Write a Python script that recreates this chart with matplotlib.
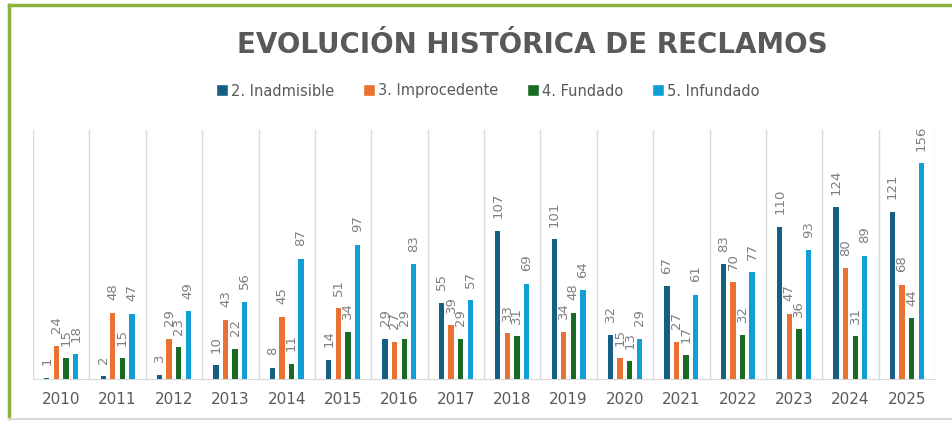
import matplotlib
matplotlib.use("Agg")
import matplotlib.pyplot as plt
import numpy as np
from matplotlib.lines import Line2D

years = [str(y) for y in range(2010, 2026)]
inadmisible = [1, 2, 3, 10, 8, 14, 29, 55, 107, 101, 32, 67, 83, 110, 124, 121]
improcedente = [24, 48, 29, 43, 45, 51, 27, 39, 33, 34, 15, 27, 70, 47, 80, 68]
fundado = [15, 15, 23, 22, 11, 34, 29, 29, 31, 48, 13, 17, 32, 36, 31, 44]
infundado = [18, 47, 49, 56, 87, 97, 83, 57, 69, 64, 29, 61, 77, 93, 89, 156]

series = [
    ("2. Inadmisible", inadmisible, "#156082"),
    ("3. Improcedente", improcedente, "#E97132"),
    ("4. Fundado", fundado, "#196B24"),
    ("5. Infundado", infundado, "#0F9ED5"),
]

W, H = 952, 422
fig = plt.figure(figsize=(W / 100, H / 100), dpi=100)
ax = fig.add_axes([33 / W, (H - 379) / H, (935 - 33) / W, (379 - 130) / H])

x = np.arange(len(years))
pitch = 0.17
width = 0.095
grey = "#7F7F7F"
for i, (name, vals, col) in enumerate(series):
    off = (i - 1.5) * pitch
    ax.bar(x + off, vals, width=width, color=col, label=name, zorder=3)
    for xi, v in zip(x, vals):
        ax.annotate(str(v), (xi + off, v), xytext=(0, 9), textcoords="offset points",
                    rotation=90, ha="center", va="bottom", fontsize=9.5, color=grey, zorder=4)

ax.set_xlim(-0.5, len(years) - 0.5)
ax.set_ylim(0, 180)
for b in np.arange(-0.5, len(years), 1.0):
    ax.axvline(b, color="#D9D9D9", lw=1, zorder=1)
for s in ["top", "left", "right"]:
    ax.spines[s].set_visible(False)
ax.spines["bottom"].set_color("#D9D9D9")
ax.set_yticks([])
ax.set_xticks(x)
ax.set_xticklabels(years, fontsize=11, color="#595959")
ax.tick_params(axis="x", length=0, pad=9)

fig.text(532 / W, 1 - 45 / H, "EVOLUCIÓN HISTÓRICA DE RECLAMOS", ha="center", va="center",
         fontsize=20, fontweight="bold", color="#595959")

handles = [Line2D([0], [0], marker="s", color="w", markerfacecolor=c, markersize=8, label=n)
           for n, _, c in series]
fig.legend(handles=handles, loc="center", bbox_to_anchor=(488 / W, 1 - 91 / H), ncol=4,
           frameon=False, fontsize=10.5, handlelength=0.8, handletextpad=0.2, columnspacing=2.0,
           labelcolor="#595959")

# frame
fig.add_artist(Line2D([9 / W, 9 / W], [1 - 5 / H, 1 - 418 / H], color="#8DB33A", lw=2.5,
                      transform=fig.transFigure))
fig.add_artist(Line2D([9 / W, 1], [1 - 5 / H, 1 - 5 / H], color="#8DB33A", lw=2.5,
                      transform=fig.transFigure))
fig.add_artist(Line2D([9 / W, 1], [1 - 419 / H, 1 - 419 / H], color="#D9D9D9", lw=1.5,
                      transform=fig.transFigure))

fig.savefig("out.png", dpi=100)
